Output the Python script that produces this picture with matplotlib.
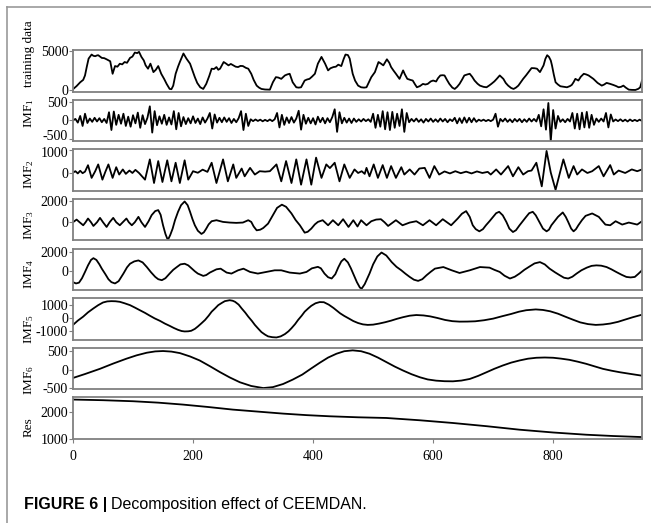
import numpy as np
import matplotlib
matplotlib.use('Agg')
import matplotlib.pyplot as plt
from matplotlib.lines import Line2D
from matplotlib.transforms import ScaledTranslation

plt.rcParams['font.family'] = 'Liberation Serif'
plt.rcParams['axes.unicode_minus'] = False

# original series (training data)
train_x = [0, 6, 12, 17, 20, 23, 26, 31, 34, 37, 40, 42, 45, 48, 52, 56, 62, 66, 70, 74, 78, 82, 86, 90, 95, 99,
           103, 107, 110, 114, 118, 121, 125, 129, 134, 138, 142, 147, 152, 156, 161, 164, 167, 171, 175, 178, 184,
           189, 195, 199, 203, 207, 212, 217, 222, 227, 231, 235, 239, 242, 245, 251, 255, 259, 263, 267, 271, 275,
           279, 283, 288, 292, 297, 301, 306, 310, 314, 320, 328, 333, 338, 342, 347, 353, 357, 361, 366, 372, 376,
           380, 386, 390, 394, 398, 403, 408, 414, 420, 425, 429, 434, 438, 442, 447, 451, 454, 458, 461, 466, 470,
           475, 480, 485, 489, 497, 503, 509, 513, 517, 523, 527, 530, 534, 538, 544, 550, 553, 557, 562, 566, 570,
           573, 578, 583, 587, 591, 596, 600, 605, 608, 612, 616, 619, 623, 627, 632, 636, 640, 644, 648, 652, 657,
           661, 665, 669, 674, 678, 684, 689, 693, 697, 702, 706, 711, 714, 717, 721, 725, 730, 734, 738, 742, 746,
           750, 755, 759, 764, 769, 773, 778, 784, 787, 790, 793, 796, 798, 801, 804, 808, 812, 818, 823, 828, 831,
           834, 837, 842, 846, 851, 855, 859, 863, 867, 874, 881, 885, 889, 895, 900, 905, 909, 913, 917, 921, 926,
           931, 937, 942, 945, 948]
train_y = [100, 500, 990, 1300, 1870, 3000, 4040, 4565, 4400, 4350, 4450, 4480, 4300, 4130, 4100, 3950, 3700, 2085,
           3080, 3000, 3380, 3300, 3600, 3500, 4130, 4300, 4820, 4750, 4910, 4260, 3800, 3170, 2740, 3390, 2300, 2600,
           3080, 2085, 1400, 780, 130, 100, 560, 2085, 3000, 3600, 4700, 4040, 3390, 2500, 1650, 900, 345, 130, 780,
           1800, 2740, 2700, 2950, 2600, 2740, 3600, 3400, 3170, 3350, 3170, 3000, 2950, 3100, 3080, 2850, 2740, 2085,
           1300, 560, 300, 130, 60, 40, 990, 1650, 1600, 1430, 1870, 2000, 2085, 990, 345, 300, 345, 1215, 1350, 1430,
           1700, 2085, 3390, 4260, 3390, 2520, 2800, 2950, 3000, 3260, 3080, 4000, 4565, 4500, 4040, 2085, 1200, 560,
           345, 300, 345, 1650, 2300, 3600, 3400, 3170, 3950, 3500, 2950, 2500, 2085, 1430, 2520, 2000, 1430, 1300,
           1215, 700, 345, 500, 780, 700, 780, 1100, 1215, 1090, 1500, 1870, 1900, 1870, 1300, 780, 300, 130, 400,
           780, 1300, 1870, 2000, 2085, 1700, 1215, 800, 560, 400, 345, 550, 780, 1100, 1430, 1870, 1650, 1430, 900,
           560, 250, 130, 300, 560, 1000, 1430, 1900, 2300, 2820, 2800, 2740, 2300, 3170, 4000, 4480, 4260, 3800,
           3170, 2000, 990, 700, 475, 400, 345, 500, 650, 1000, 1430, 1215, 1700, 2085, 2000, 1870, 1650, 1430, 910,
           560, 700, 910, 780, 650, 500, 345, 400, 560, 300, 40, 10, 0, 150, 345, 1215]

# IMF1, sampled every 4 steps
imf1 = [0, 40, -60, 120, -150, 180, -70, 50,
        -40, 70, -30, 60, -50, 40, -70,
        220, -260, 240,
        -120, 150, -90, 180, -150, 100, -170, 140, -80,
        210, -200, 140, -100, 70,
        380, -330, 250,
        -130, 110, -90, 150, -120, 80, -110,
        250, -240, 200, -160,
        90, -100, 60, -80, 110, -70, 50, -100, 80, -60, 50,
        200, -220, 160,
        -60, 70, -50, 80, -40, 60, -70, 40, -50, 60,
        250, -260, 180, -150,
        30, -20, 25, -15, 20, -25, 15, -20, 25, -20, 30,
        200, -190, 150, -120,
        80, -70, 90, -60, 50,
        260, -250, 150,
        -90, 70, -80, 60, -110, 100, -50, 70, -80, 60, -50, 90,
        300, -310, 220,
        -80, 70, -60, 50, -70, 50, -40, 30,
        -30, 40, -20, 30, -40,
        180, -200, 150, -170,
        250, -240, 220, -260, 230, -200, 180, -150,
        300, -310, 200,
        -50, 40, -30, 50, -40, 30, -60, 40, -30, 50, -40, 30, -40, 50, -30, 40, -50, 30, -20,
        70, -80, 60, -70, 80, -60, 70, -50, 60, -40,
        20, -15, 20, -20, 15, -20, 20,
        180, -170,
        40, -30, 50, -40, 30, -50, 40, -30, 40, -50, 30, -40, 50, -30, 40, -30, 150,
        -160, 300, -250, 470, -560, 280, -220, 120,
        -40, 30, -50, 40, -30,
        200, -220, 180, -240, 210, -190, 230, -200, 150, -120,
        50, -40, 50, -30,
        200, -190, 160,
        -30, 25, -20, 30, -25, 20, -30, 25, -20, 15, -20, 20, -15]
imf1_x = np.arange(len(imf1)) * 4

imf2_x = [0, 4, 8, 12, 16, 20, 25, 31, 37, 42, 49, 54, 59, 66, 72, 77, 83, 88, 94, 99, 104, 110,
          120, 128, 135, 142, 149, 157, 164, 171, 178, 186, 192, 200, 208, 216, 224,
          231, 239, 250, 258, 267, 272, 281, 286, 295, 303, 311, 320, 328,
          339, 347, 355, 364, 372, 380, 389, 397, 405, 414, 422, 428, 436, 444, 452, 461, 469, 475,
          481, 486, 489, 494, 501, 508, 516, 523, 530, 538, 547, 552, 561, 569, 577, 586, 594, 602, 610,
          619, 628, 637, 646, 655, 664, 673, 682, 691, 696, 705, 713, 725, 733, 742, 750, 758, 764,
          772, 781, 789, 796, 804, 817, 826, 834, 840, 848, 857, 865, 876, 884, 895, 901, 909, 920, 931, 940, 948]
imf2_y = [0, 60, -40, 80, -30, 40, 330, -240, 60, 365, -320, 40, 365, -240, 240, -90, 140, -60, 90, -20, 120, -20,
          -320, 590, -470, 515, -425, 550, -395, 440, -470, 550, -320, 60, -10, 130, 30,
          440, -470, 590, -395, 365, -240, 180, -170, 210, -90, 60, 40, 60,
          365, -395, 515, -470, 590, -545, 590, -545, 670, -240, 365, 200, 440, -395, 365, -240, 140, -20,
          60, -60, 210, -170, 365, -240, 335, -240, 290, -240, 240, -90, 140, -90, 180, 210, -240, 290, -90,
          50, -40, 60, -30, 40, -40, 50, -20, 30, -90, 140, -90, 290, -170, 240, -90, 60, 90,
          440, -620, 970, 0, -775, 590, -240, 290, -90, 140, -20, 60, 290, -170, 335, -90, 90, -20, 140, 60, 140]

imf3_x = [0, 6, 11, 17, 21, 25, 30, 34, 40, 45, 50, 56, 61, 67, 72, 78, 83, 89, 93, 98, 103, 109, 114, 120,
          126, 131, 137, 142, 146, 150, 154, 158, 162, 166, 170, 175, 180, 186, 191, 195, 199, 203, 208, 214,
          218, 222, 226, 231, 239, 250, 261, 272, 283, 292, 297, 301, 306, 312, 317, 325, 333, 340, 348, 355,
          364, 371, 378, 386, 391, 397, 403, 408, 416, 425, 433, 442, 450, 459, 467, 474, 480, 489, 497, 505,
          513, 519, 525, 531, 538, 549, 561, 572, 583, 594, 605, 616, 630, 641, 648, 655, 661, 666, 671, 677,
          683, 688, 694, 700, 705, 710, 716, 722, 727, 733, 738, 744, 750, 755, 760, 766, 771, 777, 783, 789,
          793, 797, 803, 808, 816, 821, 825, 830, 834, 838, 842, 848, 854, 865, 876, 887, 895, 904, 915, 926,
          940, 948]
imf3_y = [0, 250, 0, -285, 0, 350, 0, -350, 0, 410, 0, -445, 0, 410, 0, -285, 0, 350, 0, -285, 0, 505, 0, -445,
          100, 665, 1050, 1140, 700, -285, -1100, -1680, -1200, -600, 200, 980, 1600, 1950, 1600, 980, 300, -285,
          -800, -1100, -950, -600, -200, 95, 190, 30, -30, -60, -30, 190, 30, -400, -760, -700, -540, -130, 665,
          1350, 1650, 1450, 825, 200, -285, -980, -900, -600, -200, 30, 190, -285, 190, -285, 285, -445, 190, -400,
          190, -285, 95, 250, 285, 0, -350, -100, 190, -285, -30, 95, -285, 190, -285, 285, -285, 350, 800, 1045,
          500, -285, -650, -855, -650, -285, 100, 505, 850, 980, 650, 30, -600, -920, -750, -285, 150, 505, 850,
          980, 650, 30, -600, -855, -700, -285, 150, 505, 920, 500, 30, -600, -855, -650, -285, 200, 600, 825, 505,
          -220, -285, 95, -220, -30, -220, 95]

imf4_x = [0, 5, 10, 15, 20, 25, 30, 34, 39, 44, 48, 54, 59, 64, 70, 76, 84, 90, 95, 102, 109, 116, 123, 130,
          137, 142, 148, 154, 161, 167, 173, 179, 186, 192, 197, 203, 208, 217, 222, 228, 239, 246, 256, 264, 275,
          284, 295, 308, 322, 336, 347, 361, 378, 389, 398, 408, 413, 419, 425, 431, 437, 442, 447, 452, 458, 463,
          468, 473, 478, 481, 486, 494, 500, 507, 514, 522, 531, 539, 547, 554, 561, 568, 575, 582, 589, 596, 603,
          617, 631, 644, 661, 678, 694, 702, 711, 719, 728, 736, 744, 752, 761, 769, 778, 786, 794, 803, 811, 818,
          825, 832, 839, 847, 856, 864, 872, 880, 889, 897, 905, 914, 922, 929, 936, 942, 948]
imf4_y = [-1100, -1230, -1150, -700, -65, 600, 1150, 1330, 1150, 700, 265, -300, -800, -1100, -1230, -1000, -230,
          400, 765, 1000, 1100, 900, 430, -100, -565, -800, -900, -700, -230, 150, 430, 700, 765, 600, 330, 0,
          -230, -465, -380, -130, 200, 265, -130, -230, 100, 265, -65, -230, -65, 100, 100, -130, -230, -65, 300,
          450, 300, -230, -600, -730, -300, 400, 1000, 1270, 900, 300, -400, -1100, -1650, -1750, -1300, -230, 700,
          1500, 1900, 1600, 930, 450, 100, -250, -570, -850, -970, -800, -400, -50, 270, 430, 100, -170, 100, 430,
          370, 150, -65, -450, -730, -550, -230, 150, 500, 800, 930, 700, 270, -100, -400, -650, -730, -550, -230,
          100, 370, 550, 600, 570, 430, 200, -65, -350, -570, -620, -570, -250, 100]

imf5_x = [0, 8, 17, 25, 34, 42, 50, 57, 64, 71, 78, 86, 95, 103, 111, 120, 128, 136, 145, 153, 161, 168, 175,
          181, 186, 192, 197, 203, 208, 214, 220, 226, 231, 237, 242, 248, 253, 261, 266, 270, 276, 281, 287, 292,
          298, 303, 309, 314, 320, 325, 332, 339, 346, 353, 359, 364, 370, 375, 381, 386, 392, 397, 404, 411, 418,
          426, 434, 445, 452, 460, 467, 475, 483, 491, 500, 510, 520, 530, 540, 550, 561, 572, 584, 595, 607, 620,
          632, 644, 657, 670, 685, 700, 715, 730, 743, 755, 771, 783, 795, 808, 820, 833, 845, 858, 871, 883, 895,
          908, 920, 933, 946]
imf5_y = [-520, -200, 100, 420, 715, 960, 1160, 1240, 1260, 1250, 1210, 1100, 960, 780, 590, 380, 170, -30, -220,
          -420, -590, -750, -890, -980, -1010, -1000, -960, -820, -640, -400, -150, 170, 470, 730, 960, 1130, 1260,
          1330, 1290, 1210, 1000, 715, 400, 100, -220, -520, -820, -1060, -1250, -1380, -1440, -1460, -1380, -1210,
          -1000, -770, -460, -150, 170, 470, 720, 910, 1100, 1190, 1180, 1000, 750, 350, 150, -50, -230, -380, -480,
          -520, -500, -420, -320, -200, -60, 60, 170, 220, 190, 120, 0, -150, -240, -275, -270, -250, -170, -50, 130,
          300, 470, 580, 640, 600, 500, 320, 100, -130, -330, -460, -520, -490, -420, -290, -120, 60, 220]

imf6_x = [0, 20, 45, 67, 89, 106, 123, 137, 150, 164, 178, 195, 211, 228, 245, 261, 278, 297, 317, 333, 350, 366,
          382, 397, 411, 425, 439, 452, 466, 480, 494, 508, 522, 536, 550, 564, 578, 591, 605, 619, 633, 647, 661,
          675, 689, 702, 716, 730, 744, 758, 772, 786, 800, 813, 827, 841, 855, 869, 883, 897, 911, 928, 947]
imf6_y = [-225, -120, 20, 160, 290, 380, 450, 485, 495, 480, 440, 350, 243, 90, -70, -210, -340, -440, -495, -470,
          -387, -270, -135, 30, 180, 320, 423, 490, 513, 490, 423, 320, 200, 80, -27, -125, -207, -265, -297, -312,
          -315, -295, -252, -170, -72, 20, 108, 185, 243, 290, 315, 322, 315, 292, 260, 210, 153, 85, 18, -30, -72,
          -115, -162]

res_x = [0, 50, 100, 142, 183, 225, 266, 308, 350, 389, 428, 475, 522, 578, 633, 690, 744, 800, 855, 900, 947]
res_y = [2444, 2420, 2382, 2330, 2259, 2170, 2074, 2000, 1926, 1870, 1827, 1790, 1765, 1680, 1580, 1460, 1333,
         1230, 1148, 1100, 1062]

series = [(train_x, train_y), (imf1_x, imf1), (imf2_x, imf2_y), (imf3_x, imf3_y),
          (imf4_x, imf4_y), (imf5_x, imf5_y), (imf6_x, imf6_y), (res_x, res_y)]
ylims = [(-200, 5150), (-560, 560), (-820, 1045), (-1710, 2190),
         (-1900, 2300), (-1630, 1480), (-530, 580), (990, 2520)]
yticks = [[0, 5000], [-500, 0, 500], [0, 1000], [0, 2000],
          [0, 2000], [-1000, 0, 1000], [-500, 0, 500], [1000, 2000]]
labels = ['training data', r'$\mathregular{IMF_1}$', r'$\mathregular{IMF_2}$', r'$\mathregular{IMF_3}$',
          r'$\mathregular{IMF_4}$', r'$\mathregular{IMF_5}$', r'$\mathregular{IMF_6}$', 'Res']
label_y = [54, 113, 174, 225, 274, 329, 380, 427]  # pixel centres of the side labels
xticks = [0, 200, 400, 600, 800]

W, H = 651, 523
fig = plt.figure(figsize=(W / 100, H / 100), dpi=100)
gs = fig.add_gridspec(8, 1, left=73 / W, right=642 / W, top=1 - 50 / H, bottom=1 - 439 / H, hspace=0.196)

spine_col = '#808080'
for i, (xs, ys) in enumerate(series):
    ax = fig.add_subplot(gs[i])
    ax.plot(xs, ys, color='black', lw=1.3)
    ax.set_xlim(0, 948)
    ax.set_ylim(*ylims[i])
    ax.set_yticks(yticks[i])
    for s in ax.spines.values():
        s.set_color(spine_col)
        s.set_linewidth(1.3)
    ax.tick_params(axis='y', length=3, pad=0.5, labelsize=10, color=spine_col)
    if i < 7:
        ax.tick_params(axis='x', bottom=False, labelbottom=False)
    else:
        ax.set_xticks(xticks)
        ax.tick_params(axis='x', length=3, pad=5, labelsize=10, color=spine_col)
    # nudge the crowded -500 / 1000 labels between panels 2 and 3 apart a little
    if i == 1:
        lbl = ax.get_yticklabels()[0]
        lbl.set_transform(lbl.get_transform() + ScaledTranslation(0, 2.5 / 72, fig.dpi_scale_trans))
    if i == 2:
        lbl = ax.get_yticklabels()[1]
        lbl.set_transform(lbl.get_transform() + ScaledTranslation(0, -1.5 / 72, fig.dpi_scale_trans))
    fig.text(29 / W, 1 - label_y[i] / H, labels[i], rotation=90, ha='center', va='center', fontsize=9.5)

# frame round the figure panel
fig.add_artist(Line2D([7 / W, 7 / W], [0, 1 - 7 / H], transform=fig.transFigure, color='#999999', lw=1.2))
fig.add_artist(Line2D([7 / W, 1], [1 - 7 / H, 1 - 7 / H], transform=fig.transFigure, color='#999999', lw=1.2))

# caption
r = fig.canvas.get_renderer()
t1 = fig.text(24 / W, 1 - 505 / H, 'FIGURE 6 |', fontsize=11.5, fontweight='bold',
              family='Liberation Sans', va='center', ha='left')
bb = t1.get_window_extent(r)
fig.text((bb.x1 + 4) / W, 1 - 505 / H, 'Decomposition effect of CEEMDAN.', fontsize=11.5,
         family='Liberation Sans', va='center', ha='left')

fig.savefig('out.png', dpi=100)
